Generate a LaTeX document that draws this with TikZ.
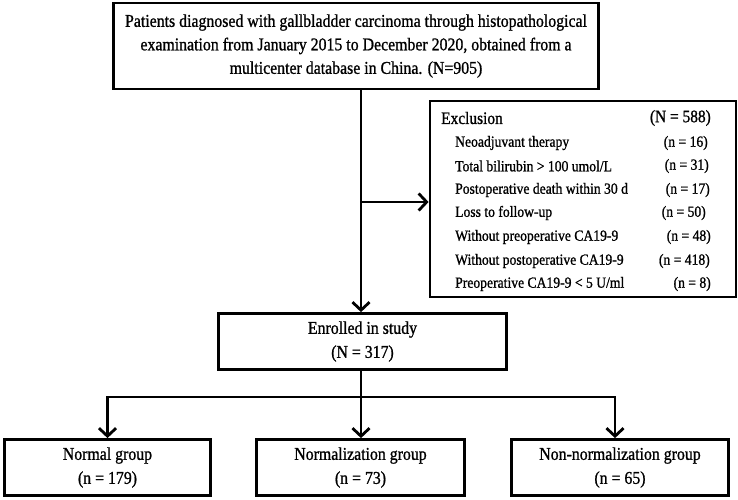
\documentclass[tikz,border=0pt]{standalone}
\usepackage{fontspec}
\setmainfont{Liberation Serif}[FakeStretch=0.88,FakeBold=1]
\usetikzlibrary{
        arrows.meta,
        positioning
    }
\tikzset{>={Straight Barb[length=8pt,width=17pt]},auto}
\tikzset{
    box/.style={draw,line width=2.8pt,align=center,inner sep=0pt},
    link/.style={line width=2.8pt},
    item/.style={anchor=west,inner sep=0pt,font=\fontsize{15.5}{18}\selectfont},
    count/.style={anchor=east,inner sep=0pt,font=\fontsize{15.5}{18}\selectfont}
}

\begin{document}
\begin{tikzpicture}[x=1pt,y=-1pt]
                \useasboundingbox (0,0) rectangle (738,499);
                \node[box,minimum width=485pt,minimum height=86pt,font=\fontsize{18}{23.5}\selectfont] (source) at (356,46)
                    {Patients diagnosed with gallbladder carcinoma through histopathological\\
                     examination from January 2015 to December 2020, obtained from a\\
                     multicenter database in China. (N=905)};
                \node[box,minimum width=306pt,minimum height=196pt] (excl) at (583,199) {};
                \node[anchor=west,inner sep=0pt,font=\fontsize{17.5}{20}\selectfont] (exhead) at (441,118) {Exclusion};
                \node[anchor=east,inner sep=0pt,font=\fontsize{17.5}{20}\selectfont] (extotal) at (711,118) {(N = 588)};
                \foreach \i/\t/\n/\x/\y in {
                        1/{Neoadjuvant therapy}/16/708/143,
                        2/{Total bilirubin > 100 umol/L}/31/709/166,
                        3/{Postoperative death within 30 d}/17/710/190,
                        4/{Loss to follow-up}/50/706/213,
                        5/{Without preoperative CA19-9}/48/711/237,
                        6/{Without postoperative CA19-9}/418/710/261,
                        7/{Preoperative CA19-9 < 5 U/ml}/8/711/284} {
                    \node[item] (reason\i) at (455,\y) {\t};
                    \node[count] (num\i) at (\x,\y) {(n = \n)};
                }
                \node[box,minimum width=288pt,minimum height=56pt,font=\fontsize{18}{24}\selectfont] (enrolled) at (362.5,341.5)
                    {Enrolled in study\\(N = 317)};
                \node[box,minimum width=206pt,minimum height=56pt,font=\fontsize{18}{24}\selectfont] (normal) at (107.5,467.5)
                    {Normal group\\(n = 179)};
                \node[box,minimum width=208pt,minimum height=56pt,font=\fontsize{18}{24}\selectfont] (normalization) at (360.5,467.5)
                    {Normalization group\\(n = 73)};
                \node[box,minimum width=217pt,minimum height=56pt,font=\fontsize{18}{24}\selectfont] (nonnormal) at (620,467.5)
                    {Non-normalization group\\(n = 65)};
                \coordinate (split) at (361,202);
                \coordinate (fork) at (361,397);
                \draw[link,->] (source.south -| split) -- (enrolled.north -| split);
                \draw[link,->] (split) -- (excl.west |- split);
                \draw[link] (enrolled.south -| fork) -- (fork);
                \draw[link,->] (fork) -| (normal.north);
                \draw[link,->] (fork) -- (normalization.north -| fork);
                \draw[link,->] (fork) -| ([xshift=-5pt]nonnormal.north);
            \end{tikzpicture}
\end{document}
